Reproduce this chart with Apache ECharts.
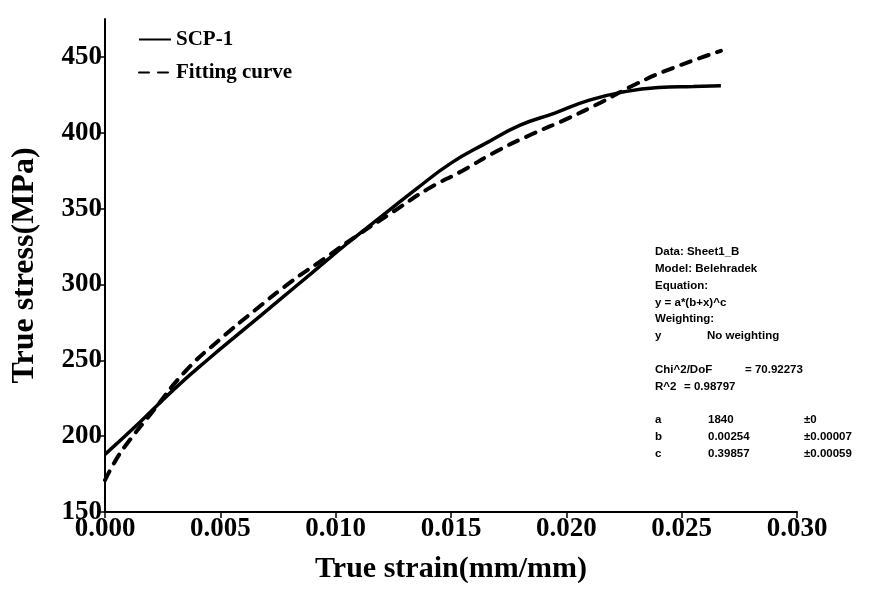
<!DOCTYPE html>
<html>
<head>
<meta charset="utf-8">
<script src="https://cdn.jsdelivr.net/npm/echarts@6/dist/echarts.min.js"></script>
<style>
  html, body { margin: 0; padding: 0; background: #fff; }
  #chart { width: 870px; height: 589px; }
</style>
</head>
<body>
<div id="chart"></div>
<script>
// measured curve (SCP-1)
var strainTest = [0, 0.0015, 0.003, 0.0045, 0.006, 0.0075, 0.009, 0.0105, 0.012, 0.0135, 0.015, 0.0165, 0.018, 0.0195, 0.021, 0.0225, 0.024, 0.0255, 0.0267];
var stressTest = [188, 209, 231, 251, 270, 289, 308, 327, 345, 363, 380, 393, 405, 413, 421.5, 427, 429.8, 430.5, 431];

// fitted curve
var strainFit = [0, 0.0005, 0.001, 0.002, 0.0035, 0.005, 0.0065, 0.008, 0.0095, 0.011, 0.0125, 0.014, 0.0155, 0.017, 0.0185, 0.02, 0.0215, 0.023, 0.0245, 0.0267];
var stressFit = [171, 185, 196, 215, 243, 264, 283, 301, 317, 333, 348, 363, 375, 388, 399, 409, 420, 432, 442, 454];

var yTicks = [150, 200, 250, 300, 350, 400, 450];

// fit report text
var fitReport = [
  ['Data: Sheet1_B'],
  ['Model: Belehradek'],
  ['Equation:'],
  ['y = a*(b+x)^c'],
  ['Weighting:'],
  ['y', 'No weighting']
];
var fitStats = [
  ['Chi^2/DoF', '= 70.92273'],
  ['R^2', '= 0.98797']
];
var fitParams = [
  ['a', '1840', '\u00b10'],
  ['b', '0.00254', '\u00b10.00007'],
  ['c', '0.39857', '\u00b10.00059']
];

function pairs(xs, ys) {
  return xs.map(function(x, i) { return [x, ys[i]]; });
}

var serif = '"Liberation Serif", "Times New Roman", serif';
var sans = '"Liberation Sans", Arial, sans-serif';

var graphics = [];
var txt = function(text, x, y) {
  return {
    type: 'text', left: x, top: y,
    style: { text: text, font: 'bold 11.5px ' + sans, fill: '#000' }
  };
};
var rowH = 16.8;
fitReport.forEach(function(r, i) {
  var y = 246 + i * rowH;
  graphics.push(txt(r[0], 655, y));
  if (r[1]) graphics.push(txt(r[1], 707, y));
});
fitStats.forEach(function(r, i) {
  var y = 246 + (7 + i) * rowH;
  graphics.push(txt(r[0], 655, y));
  graphics.push(txt(r[1], i === 0 ? 745 : 684, y));
});
fitParams.forEach(function(r, i) {
  var y = 246 + (10 + i) * rowH;
  graphics.push(txt(r[0], 655, y));
  graphics.push(txt(r[1], 708, y));
  graphics.push(txt(r[2], 804, y));
});

var myChart = echarts.init(document.getElementById('chart'));
var option = {
  backgroundColor: '#fff',
  animation: false,
  grid: { left: 105, right: 73, top: 19, bottom: 74 },
  legend: {
    left: 133, top: 24,
    orient: 'vertical',
    itemWidth: 32, itemHeight: 14, itemGap: 12,
    itemStyle: { opacity: 0 },
    textStyle: { fontFamily: serif, fontWeight: 'bold', fontSize: 21, color: '#000' },
    data: ['SCP-1', 'Fitting curve']
  },
  xAxis: {
    type: 'value',
    min: 0, max: 0.03, interval: 0.005,
    name: 'True strain(mm/mm)',
    nameLocation: 'middle', nameGap: 42,
    nameTextStyle: { fontFamily: serif, fontWeight: 'bold', fontSize: 30, color: '#000' },
    axisLine: { show: true, lineStyle: { color: '#000', width: 2 } },
    axisTick: { show: true, inside: false, length: 6, lineStyle: { color: '#000', width: 1.5 } },
    axisLabel: {
      color: '#000', fontFamily: serif, fontWeight: 'bold', fontSize: 27, margin: 4,
      formatter: function(v) { return v.toFixed(3); }
    },
    splitLine: { show: false }
  },
  yAxis: {
    type: 'value',
    min: 150, max: 475,
    name: 'True stress(MPa)',
    nameLocation: 'middle', nameGap: 64,
    nameTextStyle: { fontFamily: serif, fontWeight: 'bold', fontSize: 32, color: '#000' },
    axisLine: { show: true, lineStyle: { color: '#000', width: 2 } },
    axisTick: { show: true, inside: false, length: 6, customValues: yTicks, lineStyle: { color: '#000', width: 1.5 } },
    axisLabel: {
      color: '#000', fontFamily: serif, fontWeight: 'bold', fontSize: 27, margin: 3,
      customValues: yTicks
    },
    splitLine: { show: false }
  },
  graphic: graphics,
  series: [
    {
      name: 'SCP-1',
      type: 'line',
      smooth: true,
      symbol: 'none',
      lineStyle: { color: '#000', width: 3.5 },
      itemStyle: { color: '#000' },
      data: pairs(strainTest, stressTest),
      z: 3
    },
    {
      name: 'Fitting curve',
      type: 'line',
      smooth: true,
      symbol: 'none',
      lineStyle: { color: '#000', width: 4, type: [10, 9], cap: 'round' },
      itemStyle: { color: '#000' },
      data: pairs(strainFit, stressFit),
      z: 2
    }
  ]
};
myChart.setOption(option);
</script>
</body>
</html>
